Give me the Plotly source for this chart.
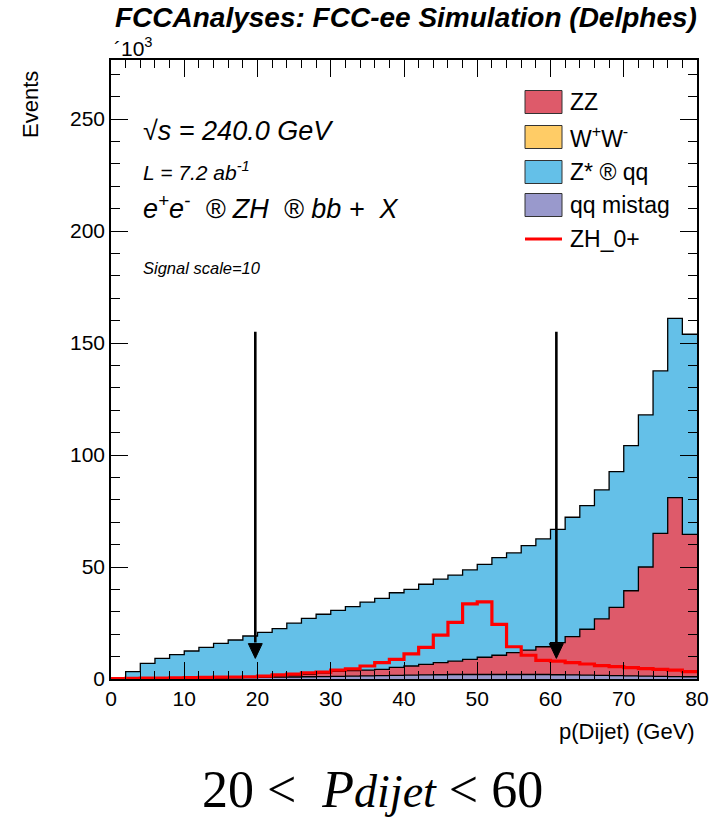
import plotly.graph_objects as go
import numpy as np

# ---------------- data (values in units of 10^3 events) ----------------
bin_edges = list(range(0, 82, 2))          # p(Dijet) bin edges, GeV
bin_centers = [e + 1 for e in bin_edges[:-1]]

qq_mistag = [0.0, 0.05, 0.1, 0.15, 0.2, 0.25, 0.3, 0.4, 0.5, 0.6,
             0.7, 0.8, 0.9, 1.0, 1.1, 1.2, 1.3, 1.4, 1.5, 1.6,
             1.7, 1.8, 1.9, 2.0, 2.0, 2.0, 2.0, 2.0, 2.0, 2.0,
             1.9, 1.8, 1.7, 1.6, 1.5, 1.4, 1.3, 1.2, 1.1, 1.0]

zz = [0.05, 0.05, 0.05, 0.05, 0.1, 0.15, 0.2, 0.2, 0.25, 0.3,
      0.4, 0.6, 0.8, 1.1, 1.5, 2.2, 2.4, 2.6, 2.8, 3.6,
      4.1, 4.7, 5.4, 6.0, 6.8, 7.7, 8.6, 9.8, 10.9, 12.4,
      14.3, 17.1, 20.5, 25.2, 30.5, 38.0, 48.7, 63.8, 79.9, 63.6]

ww = [0.0] * 40

zqq = [0.45, 3.2, 6.85, 9.0, 10.6, 12.1, 13.6, 15.3, 16.65, 18.3,
       19.7, 21.1, 23.2, 25.0, 26.3, 27.2, 28.6, 30.3, 31.7, 33.3,
       34.2, 35.8, 37.3, 38.4, 39.9, 41.5, 43.6, 44.5, 46.6, 48.2,
       50.6, 53.3, 55.2, 57.6, 60.6, 64.8, 67.9, 72.6, 80.0, 89.3]

signal_zh = [0.2, 0.3, 0.35, 0.4, 0.5, 0.6, 0.7, 0.8, 0.9, 1.0,
             1.3, 1.8, 2.2, 2.7, 3.1, 4.0, 4.5, 5.8, 7.3, 8.8,
             11.2, 14.1, 19.6, 25.3, 33.5, 34.4, 24.4, 14.4, 10.6, 8.3,
             8.0, 7.3, 6.7, 5.95, 5.5, 5.1, 4.6, 4.3, 4.0, 3.3]

cut_values = [19.7, 60.8]        # arrow positions (GeV)
arrow_top = 155.0
arrow_tip = 9.2
arrow_head = 15.8

legend_labels = ["ZZ", "W<sup>+</sup>W<sup>-</sup>", "Z* \u00ae qq", "qq mistag", "ZH_0+"]

col_zz = "#de5a6a"
col_ww = "#ffcc66"
col_zqq = "#64c0e8"
col_mis = "#9999cc"
col_sig = "#ff0000"

# ---------------- figure ----------------
W, H = 710, 818
L, R, T, B = 111, 697, 60, 679
YMAX = (B - T) / 2.24

def px(x):
    return (x - L) / (R - L)

def py(y):
    return (B - y) / (B - T)

fig = go.Figure()

stack = [(qq_mistag, col_mis), (zz, col_zz), (ww, col_ww), (zqq, col_zqq)]
for vals, col in stack:
    fig.add_trace(go.Bar(x=bin_centers, y=vals, width=2, marker=dict(color=col, line=dict(width=0)),
                         showlegend=False, hoverinfo="skip"))

# outlines of stacked histograms
cum = np.zeros(40)
for vals, col in stack:
    cum = cum + np.array(vals)
    if not any(vals):
        continue
    fig.add_trace(go.Scatter(x=bin_edges, y=list(cum) + [cum[-1]], mode="lines",
                             line=dict(color="black", width=1.3, shape="hv"),
                             showlegend=False, hoverinfo="skip"))

# signal
fig.add_trace(go.Scatter(x=bin_edges, y=signal_zh + [signal_zh[-1]], mode="lines",
                         line=dict(color=col_sig, width=3.2, shape="hv"),
                         showlegend=False, hoverinfo="skip"))

shapes = []
for c in cut_values:
    shapes.append(dict(type="line", xref="x", yref="y", x0=c, x1=c, y0=arrow_top, y1=arrow_head + 0.5,
                       line=dict(color="black", width=2.6)))
    shapes.append(dict(type="path", xref="x", yref="y",
                       path=f"M {c-0.95},{arrow_head} L {c+0.95},{arrow_head} L {c},{arrow_tip} Z",
                       fillcolor="black", line=dict(color="black", width=1)))

# legend (manual, ROOT style)
leg_rows = [102, 137, 172, 205, 239]
leg_cols = [col_zz, col_ww, col_zqq, col_mis]
for i, yc in enumerate(leg_rows[:4]):
    shapes.append(dict(type="rect", xref="paper", yref="paper",
                       x0=px(525), x1=px(562), y0=py(yc - 11.5), y1=py(yc + 11.5),
                       fillcolor=leg_cols[i], line=dict(color="#333333", width=1)))
shapes.append(dict(type="line", xref="paper", yref="paper", x0=px(525), x1=px(562),
                   y0=py(leg_rows[4]), y1=py(leg_rows[4]), line=dict(color=col_sig, width=3)))

font = "Liberation Sans, Arial, Helvetica, sans-serif"
ann = []
for lab, yc in zip(legend_labels, leg_rows):
    ann.append(dict(text=lab, x=px(568), y=py(yc), xref="paper", yref="paper", xanchor="left",
                    yanchor="middle", showarrow=False, font=dict(family=font, size=23, color="black")))

ann += [
    dict(text="<b><i>FCCAnalyses: FCC-ee Simulation (Delphes)</i></b>", x=px(699), y=py(18),
         xanchor="right", yanchor="middle", font=dict(family=font, size=28, color="black")),
    dict(text="\u00b410<sup>3</sup>", x=px(112), y=py(47), xanchor="left", yanchor="middle",
         font=dict(family=font, size=21, color="black")),
    dict(text="Events", x=px(30), y=py(105), xanchor="center", yanchor="middle", textangle=-90,
         font=dict(family=font, size=22, color="black")),
    dict(text="p(Dijet) (GeV)", x=px(697), y=py(731), xanchor="right", yanchor="middle",
         font=dict(family=font, size=22, color="black")),
    dict(text="\u221a<i>s = 240.0 GeV</i>", x=px(141), y=py(131), xanchor="left", yanchor="middle",
         font=dict(family=font, size=27, color="black")),
    dict(text="<i>L = 7.2 ab<sup>-1</sup></i>", x=px(141), y=py(171), xanchor="left", yanchor="middle",
         font=dict(family=font, size=21, color="black")),
    dict(text="<i>e<sup>+</sup>e<sup>-</sup>  \u00ae ZH  \u00ae bb +  X</i>", x=px(141), y=py(207),
         xanchor="left", yanchor="middle", font=dict(family=font, size=27, color="black")),
    dict(text="<i>Signal scale=10</i>", x=px(141), y=py(268), xanchor="left", yanchor="middle",
         font=dict(family=font, size=16.5, color="black")),
    dict(text="20 <  <i>P</i><i><span style='font-size:46px'>dijet</span></i> < 60",
         x=px(372), y=py(789), xanchor="center",
         yanchor="middle", font=dict(family="Liberation Serif, DejaVu Serif, serif", size=52, color="black")),
]
for a in ann:
    a.setdefault("xref", "paper")
    a.setdefault("yref", "paper")
    a.setdefault("showarrow", False)

axis_common = dict(showline=True, linecolor="black", linewidth=1.5, mirror="ticks",
                   ticks="inside", tickcolor="black", tickwidth=1.3, ticklen=17,
                   showgrid=False, zeroline=False, automargin=False,
                   tickfont=dict(family=font, size=21, color="black"))

fig.update_layout(
    width=W, height=H,
    margin=dict(l=L, r=W - R, t=T, b=H - B, autoexpand=False),
    paper_bgcolor="white", plot_bgcolor="white",
    barmode="stack", bargap=0,
    shapes=shapes, annotations=ann,
    xaxis=dict(range=[0, 80], dtick=10, tick0=0,
               minor=dict(ticks="inside", ticklen=8, dtick=2, tickcolor="black", tickwidth=1.3),
               **axis_common),
    yaxis=dict(range=[0, YMAX], dtick=50, tick0=0,
               minor=dict(ticks="inside", ticklen=9, dtick=10, tickcolor="black", tickwidth=1.3),
               **axis_common),
)

fig.write_html("out.html")
